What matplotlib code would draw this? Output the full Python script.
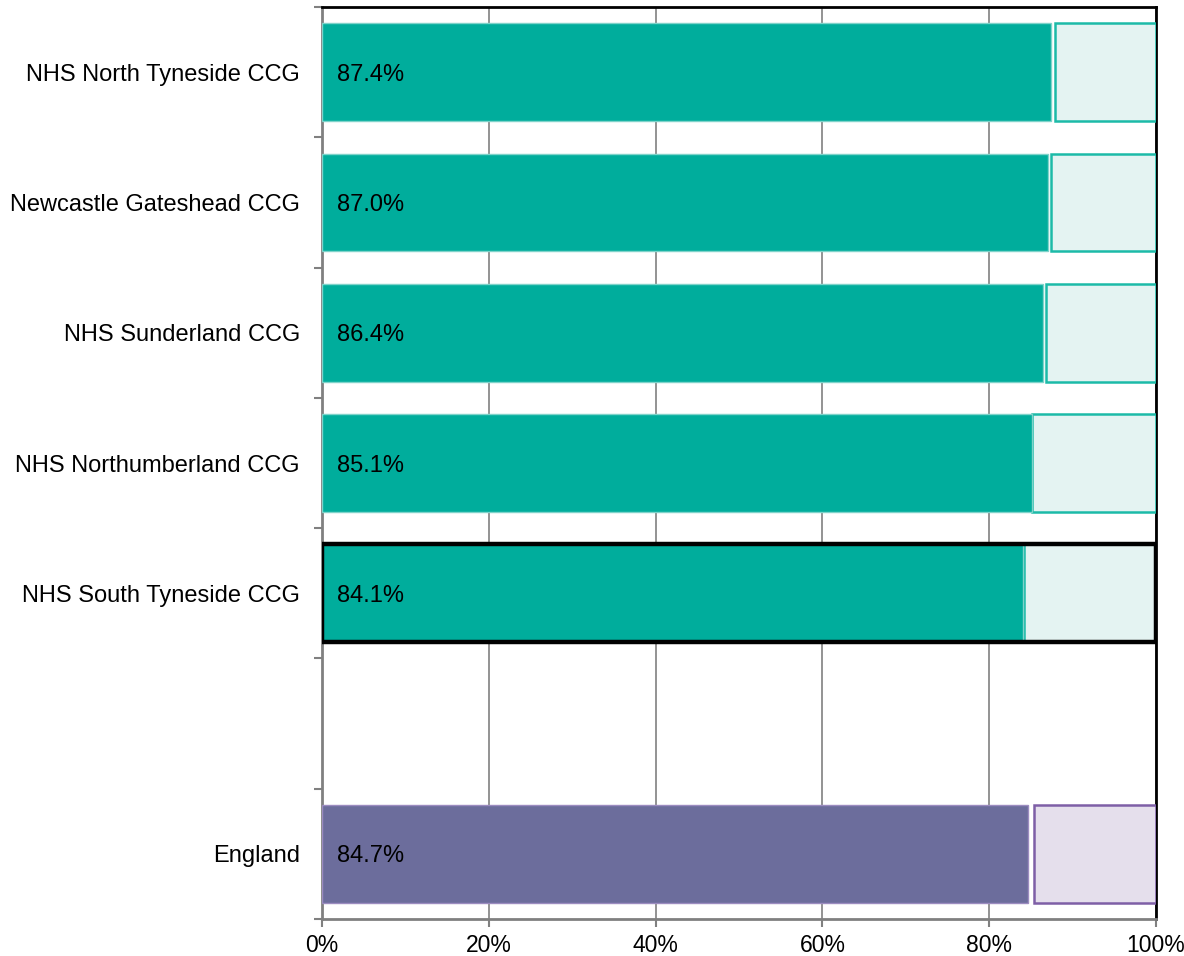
import matplotlib
matplotlib.use("Agg")
import matplotlib.pyplot as plt
from matplotlib.ticker import FixedLocator, FuncFormatter

categories = ["NHS North Tyneside CCG", "Newcastle Gateshead CCG", "NHS Sunderland CCG",
              "NHS Northumberland CCG", "NHS South Tyneside CCG", "", "England"]
values = [87.4, 87.0, 86.4, 85.1, 84.1, None, 84.7]
upper = [87.9, 87.4, 86.8, 85.1, 84.2, None, 85.4]
labels = ["87.4%", "87.0%", "86.4%", "85.1%", "84.1%", "", "84.7%"]
highlight = "NHS South Tyneside CCG"
xticks = [0, 20, 40, 60, 80, 100]

plt.rcParams['font.family'] = ['Liberation Sans', 'DejaVu Sans']
fig = plt.figure(figsize=(11.84, 9.56), dpi=100)
ax = fig.add_axes([322/1184, 1-919/956, (1156-322)/1184, (919-7)/956])

teal, teal_light, teal_edge = "#00AD9C", "#E4F3F2", "#1CBAA8"
purp, purp_light, purp_edge = "#6C6D9C", "#E5DFEC", "#7E5FA6"

for i, (c, v, u, lab) in enumerate(zip(categories, values, upper, labels)):
    if v is None:
        continue
    if c == "England":
        dk, lt, ed = purp, purp_light, purp_edge
    else:
        dk, lt, ed = teal, teal_light, teal_edge
    ax.barh(i, 100 - u, left=u, height=0.75, color=lt, edgecolor=ed, linewidth=1.8, zorder=3)
    ax.barh(i, v, height=0.75, color=dk, edgecolor="#7FD3CA" if c != "England" else "#9C8CC0",
            linewidth=1.0, zorder=4)
    ax.text(1.8, i, lab, va="center_baseline", ha="left", fontsize=17, color="black", zorder=6)
    if c == highlight:
        ax.barh(i, 100, height=0.75, facecolor="none", edgecolor="black", linewidth=3.2, zorder=5)

ax.set_xlim(0, 100)
ax.set_ylim(6.5, -0.5)
ax.set_xticks(xticks)
ax.xaxis.set_major_formatter(FuncFormatter(lambda x, p: f"{int(x)}%"))
ax.set_yticks(range(len(categories)))
ax.set_yticklabels(categories)
ax.yaxis.set_minor_locator(FixedLocator([k - 0.5 for k in range(len(categories) + 1)]))
ax.tick_params(axis="y", which="major", length=0, pad=16, labelsize=17)
ax.tick_params(axis="y", which="minor", length=6, color="#808080", width=1.5)
ax.tick_params(axis="x", which="major", length=6, color="#808080", width=1.5, labelsize=16.5, pad=5)

ax.grid(axis="x", color="#808080", linewidth=1.2, zorder=0)
for s in ["left", "bottom"]:
    ax.spines[s].set_color("#808080")
    ax.spines[s].set_linewidth(2)
for s in ["top", "right"]:
    ax.spines[s].set_color("black")
    ax.spines[s].set_linewidth(2)
ax.set_axisbelow(True)

fig.savefig("out.png", dpi=100)
